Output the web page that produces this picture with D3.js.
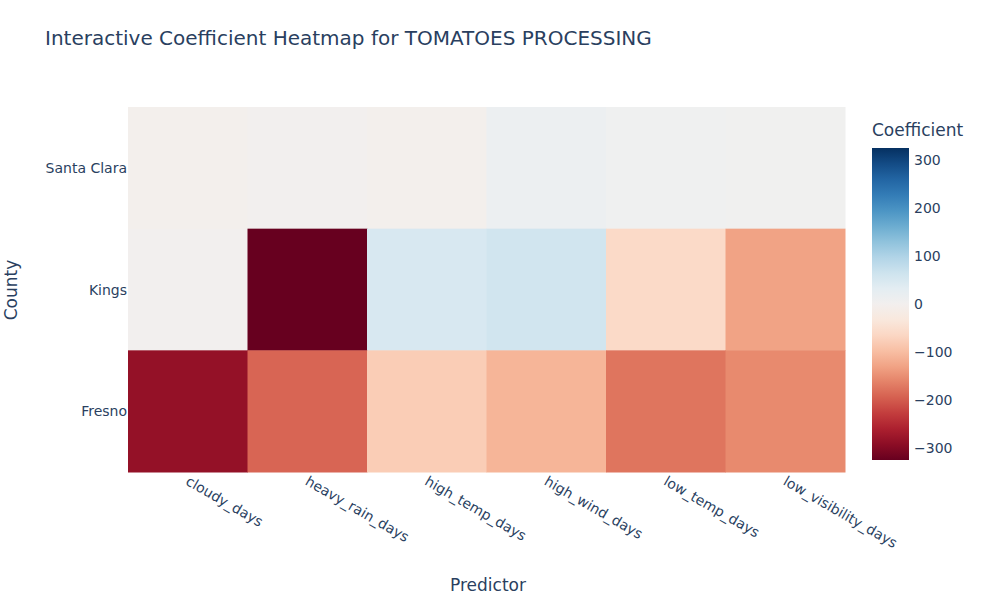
<!DOCTYPE html>
<html>
<head>
<meta charset="utf-8"/>
<script src="https://d3js.org/d3.v7.min.js"></script>
<style>
body { margin: 0; background: #fff; }
text { font-family: "DejaVu Sans", sans-serif; fill: #2a3f5f; }
</style>
</head>
<body>
<script>
var predictors = ["cloudy_days", "heavy_rain_days", "high_temp_days", "high_wind_days", "low_temp_days", "low_visibility_days"];
var counties = ["Santa Clara", "Kings", "Fresno"];
var santaClara = [-5, 0, -5, 15, 8, 5];
var kings = [0, -325, 50, 60, -60, -130];
var fresno = [-285, -190, -80, -110, -175, -155];
var colorTicks = [-300, -200, -100, 0, 100, 200, 300];
var zmax = 325;

var rows = [santaClara, kings, fresno];
var cells = [];
rows.forEach(function(r, i) {
  r.forEach(function(v, j) { cells.push({county: counties[i], pred: predictors[j], v: v}); });
});

var width = 991, height = 601;
var svg = d3.select("body").append("svg").attr("width", width).attr("height", height);

var x = d3.scaleBand().domain(predictors).range([128, 845]);
var y = d3.scaleBand().domain(counties).range([107, 472]);
var color = function(v) { return d3.interpolateRdBu((v + zmax) / (2 * zmax)); };

svg.selectAll("rect.cell").data(cells).enter().append("rect")
  .attr("x", function(d) { return x(d.pred); })
  .attr("y", function(d) { return y(d.county); })
  .attr("width", x.bandwidth() + 0.5)
  .attr("height", y.bandwidth() + 0.5)
  .attr("fill", function(d) { return color(d.v); });

// x labels
svg.append("g").selectAll("text").data(predictors).enter().append("text")
  .attr("transform", function(d) { return "translate(" + (x(d) + x.bandwidth() / 2 - 3) + ",484) rotate(30)"; })
  .attr("font-size", 14)
  .text(function(d) { return d; });

// y labels
svg.append("g").selectAll("text").data(counties).enter().append("text")
  .attr("x", 127).attr("y", function(d) { return y(d) + y.bandwidth() / 2 + 5; })
  .attr("text-anchor", "end").attr("font-size", 14)
  .text(function(d) { return d; });

svg.append("text").attr("x", 45).attr("y", 45).attr("font-size", 20)
  .text("Interactive Coefficient Heatmap for TOMATOES PROCESSING");
svg.append("text").attr("x", 488).attr("y", 591).attr("text-anchor", "middle").attr("font-size", 17).text("Predictor");
svg.append("text").attr("transform", "translate(17,290) rotate(-90)").attr("text-anchor", "middle").attr("font-size", 17).text("County");

// colorbar
var cbY = d3.scaleLinear().domain([-zmax, zmax]).range([460, 148]);
var defs = svg.append("defs");
var grad = defs.append("linearGradient").attr("id", "cb").attr("x1", 0).attr("x2", 0).attr("y1", 1).attr("y2", 0);
d3.range(0, 1.0001, 0.05).forEach(function(t) {
  grad.append("stop").attr("offset", t).attr("stop-color", color(-zmax + t * 2 * zmax));
});
svg.append("rect").attr("x", 872).attr("y", 148).attr("width", 37).attr("height", 312).attr("fill", "url(#cb)");
svg.append("g").attr("transform", "translate(909,0)")
  .call(d3.axisRight(cbY).tickValues(colorTicks).tickSize(0).tickPadding(5).tickFormat(function(d) { return d < 0 ? "\u2212" + (-d) : d; }))
  .call(function(g) { g.select(".domain").remove(); g.selectAll("text").attr("font-size", 14).attr("fill", "#2a3f5f").style("font-family", "DejaVu Sans"); });
svg.append("text").attr("x", 872).attr("y", 136).attr("font-size", 17).text("Coefficient");
</script>
</body>
</html>
